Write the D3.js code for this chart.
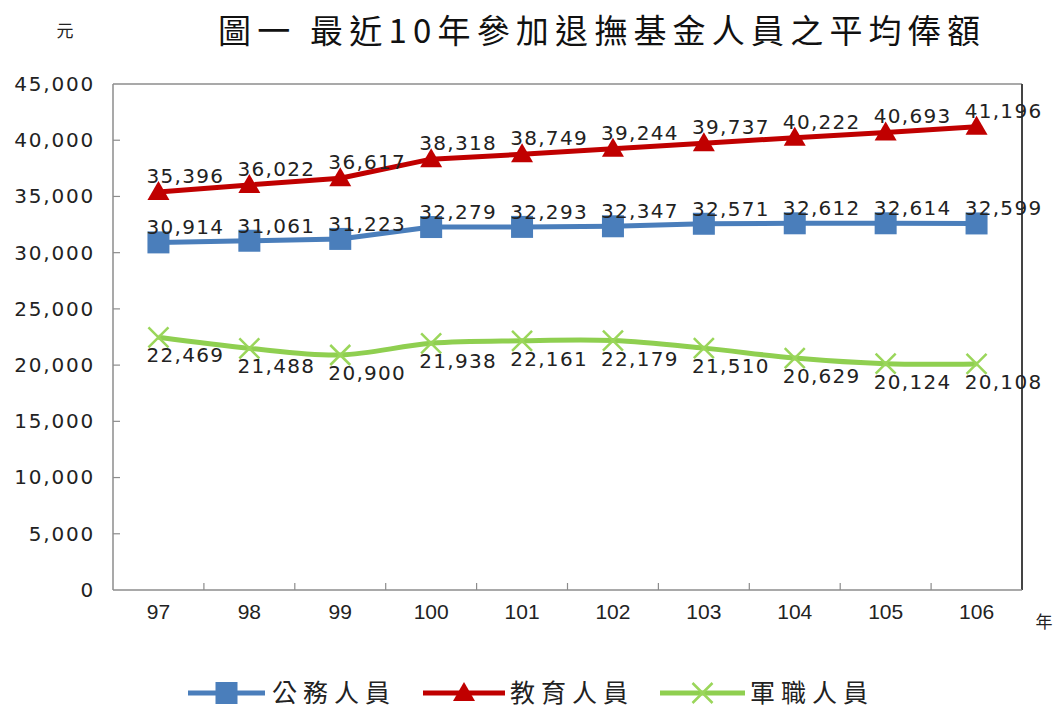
<!DOCTYPE html>
<html><head><meta charset="utf-8">
<script src="https://cdn.jsdelivr.net/npm/d3@7"></script>
<style>
html,body{margin:0;padding:0;background:#fff;}
svg{display:block;}
</style></head>
<body><svg id="c" width="1059" height="708"></svg>
<script>
const years = ["97","98","99","100","101","102","103","104","105","106"];
const civil = [30914,31061,31223,32279,32293,32347,32571,32612,32614,32599];
const teacher = [35396,36022,36617,38318,38749,39244,39737,40222,40693,41196];
const military = [22469,21488,20900,21938,22161,22179,21510,20629,20124,20108];
const yTicks = [0,5000,10000,15000,20000,25000,30000,35000,40000,45000];
const seriesNames = ["公務人員","教育人員","軍職人員"];
const titleText = "圖一 最近10年參加退撫基金人員之平均俸額";

const svg = d3.select("#c");
const L = 113, R = 1022, T = 84, B = 590;
const x = d3.scaleBand().domain(years).range([L, R]);
const cx = d => x(d) + x.bandwidth()/2;
const y = d3.scaleLinear().domain([0,45000]).range([B, T]);
const numFmt = d3.format(",");
const labelFont = "'DejaVu Sans', Verdana, sans-serif";
const cjkFont = "'Noto Sans CJK TC', 'Noto Sans CJK SC', serif";

// title
svg.append("text").attr("x", 218).attr("y", 43)
  .attr("font-family", cjkFont).attr("font-size", 33).attr("fill", "#111")
  .attr("textLength", 762).attr("lengthAdjust", "spacing")
  .text(titleText);
svg.append("text").attr("x", 65).attr("y", 37).attr("text-anchor","middle")
  .attr("font-family", cjkFont).attr("font-size", 17).attr("fill", "#222").text("元");
svg.append("text").attr("x", 1044).attr("y", 628).attr("text-anchor","middle")
  .attr("font-family", cjkFont).attr("font-size", 17).attr("fill", "#222").text("年");

// frame
svg.append("line").attr("x1", L).attr("x2", R).attr("y1", T).attr("y2", T).attr("stroke", "#8c8c8c").attr("stroke-width", 1.5);
svg.append("line").attr("x1", R).attr("x2", R).attr("y1", T).attr("y2", B).attr("stroke", "#444").attr("stroke-width", 2);
svg.append("line").attr("x1", L).attr("x2", L).attr("y1", T).attr("y2", B).attr("stroke", "#8c8c8c").attr("stroke-width", 1.5);
svg.append("line").attr("x1", L).attr("x2", R).attr("y1", B).attr("y2", B).attr("stroke", "#8c8c8c").attr("stroke-width", 1.5);

// y axis
const yAxis = d3.axisLeft(y).tickValues(yTicks).tickSize(0).tickPadding(18).tickFormat(numFmt);
const gy = svg.append("g").attr("transform", `translate(${L},0)`).call(yAxis);
gy.select(".domain").remove();
gy.selectAll("text").attr("font-family", labelFont).attr("font-size", 20)
  .attr("letter-spacing", "1.8px").attr("fill", "#222");
svg.append("g").selectAll("line").data(yTicks.filter(d => d>0 && d<45000)).join("line")
  .attr("x1", L).attr("x2", L+7).attr("y1", d=>y(d)).attr("y2", d=>y(d))
  .attr("stroke", "#8c8c8c").attr("stroke-width", 1.2);

// x axis
const xAxis = d3.axisBottom(x).tickSize(0).tickPadding(14);
const gx = svg.append("g").attr("transform", `translate(0,${B})`).call(xAxis);
gx.select(".domain").remove();
gx.selectAll("text").attr("font-family", "'Liberation Sans', Arial, sans-serif").attr("font-size", 21).attr("fill", "#222");
svg.append("g").selectAll("line").data(years.slice(1)).join("line")
  .attr("x1", d=>x(d)).attr("x2", d=>x(d)).attr("y1", B).attr("y2", B-7)
  .attr("stroke", "#8c8c8c").attr("stroke-width", 1.2);

const colors = {civil:"#4a7ebb", teacher:"#c00000", military:"#8fcf50"};

function drawLine(vals, color, curve){
  const line = d3.line().x((d,i)=>cx(years[i])).y(d=>y(d)).curve(curve);
  svg.append("path").datum(vals).attr("d", line).attr("fill","none")
    .attr("stroke", color).attr("stroke-width", 5).attr("stroke-linejoin","round");
}
drawLine(civil, colors.civil, d3.curveLinear);
drawLine(teacher, colors.teacher, d3.curveLinear);
drawLine(military, colors.military, d3.curveCatmullRom.alpha(0.5));

function square(g, px, py, color){
  g.append("rect").attr("x", px-11).attr("y", py-11).attr("width", 22).attr("height", 22).attr("fill", color);
}
function tri(g, px, py, color){
  g.append("path").attr("d", `M${px},${py-11}L${px+11},${py+8}L${px-11},${py+8}Z`).attr("fill", color);
}
function cross(g, px, py, color){
  g.append("path").attr("d", `M${px-10},${py-10}L${px+10},${py+10}M${px-10},${py+10}L${px+10},${py-10}`)
    .attr("stroke", color).attr("stroke-width", 2.5).attr("fill","none");
}

const mk = svg.append("g");
civil.forEach((v,i)=>square(mk, cx(years[i]), y(v), colors.civil));
teacher.forEach((v,i)=>tri(mk, cx(years[i]), y(v), colors.teacher));
military.forEach((v,i)=>cross(mk, cx(years[i]), y(v), "#9ad65a"));

function labels(vals, dy){
  svg.append("g").selectAll("text").data(vals).join("text")
    .attr("x", (d,i)=>cx(years[i]) + 27).attr("y", d=>y(d)+dy)
    .attr("text-anchor","middle").attr("font-family", labelFont).attr("font-size", 20)
    .attr("letter-spacing", "1.3px").attr("fill", "#222").text(d=>numFmt(d));
}
labels(teacher, -9);
labels(civil, -8);
labels(military, 25);

// legend
const lg = svg.append("g");
const ly = 693;
const legendItems = [
  {x1:188, x2:265, color:colors.civil, m:square, mc:colors.civil, tx:272},
  {x1:423, x2:505, color:colors.teacher, m:tri, mc:colors.teacher, tx:510},
  {x1:660, x2:745, color:colors.military, m:cross, mc:"#9ad65a", tx:750}
];
legendItems.forEach((it, i)=>{
  lg.append("line").attr("x1", it.x1).attr("x2", it.x2).attr("y1", ly).attr("y2", ly)
    .attr("stroke", it.color).attr("stroke-width", 5);
  it.m(lg, (it.x1+it.x2)/2, ly, it.mc);
  lg.append("text").attr("x", it.tx).attr("y", ly+9).attr("font-family", cjkFont)
    .attr("font-size", 25).attr("letter-spacing", "6px").attr("fill", "#222").text(seriesNames[i]);
});
</script></body></html>
